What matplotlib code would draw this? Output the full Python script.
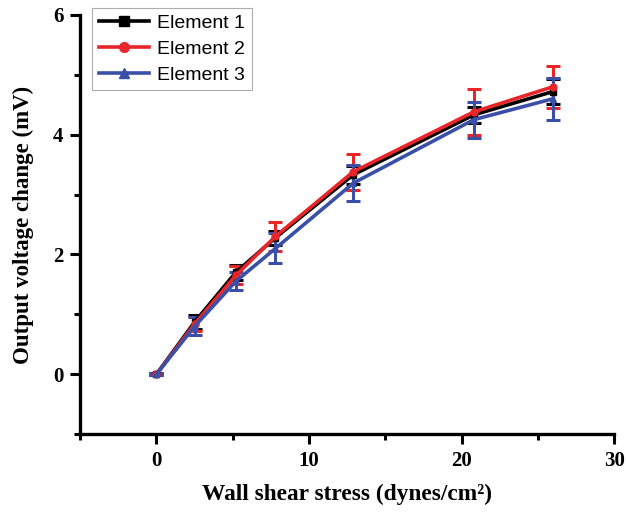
import matplotlib.pyplot as plt
from matplotlib.lines import Line2D
from matplotlib.ticker import MultipleLocator

stress = [0, 2.5, 5.2, 7.8, 12.9, 20.8, 26.0]

elem1 = [0, 0.87, 1.70, 2.28, 3.33, 4.33, 4.72]
elem1_err = [0.02, 0.12, 0.12, 0.12, 0.15, 0.13, 0.21]

elem2 = [0, 0.84, 1.65, 2.30, 3.38, 4.38, 4.80]
elem2_err = [0.02, 0.12, 0.15, 0.25, 0.30, 0.38, 0.35]

elem3 = [0, 0.80, 1.55, 2.10, 3.19, 4.25, 4.60]
elem3_err = [0.02, 0.15, 0.15, 0.25, 0.30, 0.30, 0.35]

labels = ["Element 1", "Element 2", "Element 3"]

fig = plt.figure(figsize=(6.26, 5.12), dpi=100)
ax = fig.add_axes([0.128, 0.152, 0.853, 0.819])

series = [
    (elem1, elem1_err, "#000000", "s"),
    (elem2, elem2_err, "#e8262a", "o"),
    (elem3, elem3_err, "#3a4fa8", "^"),
]

handles = []
for vals, err, color, marker in series:
    ax.errorbar(stress, vals, yerr=err, color=color, marker=marker,
                markersize=5, linewidth=2.6, elinewidth=2.2, capsize=5,
                capthick=2.2)
    handles.append(Line2D([], [], color=color, marker=marker,
                          markersize=7, linewidth=2.6))

ax.set_xlim(-5, 30)
ax.set_ylim(-1, 6)
ax.xaxis.set_major_locator(MultipleLocator(10))
ax.xaxis.set_minor_locator(MultipleLocator(5))
ax.yaxis.set_major_locator(MultipleLocator(2))
ax.yaxis.set_minor_locator(MultipleLocator(1))

ax.spines["top"].set_visible(False)
ax.spines["right"].set_visible(False)
for side in ["left", "bottom"]:
    ax.spines[side].set_linewidth(2.4)

ax.tick_params(which="major", direction="out", length=7, width=2.2, pad=5)
ax.tick_params(which="minor", direction="out", length=4, width=2.2)

for lab in ax.get_xticklabels() + ax.get_yticklabels():
    lab.set_family("Liberation Serif")
    lab.set_fontweight("bold")
    lab.set_fontsize(15)

ax.set_xlabel("Wall shear stress (dynes/cm²)", family="Liberation Serif",
              fontweight="bold", fontsize=16.8, labelpad=9)
ax.set_ylabel("Output voltage change (mV)", family="Liberation Serif",
              fontweight="bold", fontsize=16.5, labelpad=14)

leg = ax.legend(handles, labels, loc="upper left",
                bbox_to_anchor=(0.022, 1.017), frameon=True,
                fancybox=False, edgecolor="#999999", handlelength=2.6,
                prop={"family": "Liberation Sans", "size": 14},
                borderpad=0.35, labelspacing=0.42, handletextpad=0.4,
                borderaxespad=0)
leg.get_frame().set_linewidth(0.8)

plt.savefig("out.png", dpi=100)
plt.close()
